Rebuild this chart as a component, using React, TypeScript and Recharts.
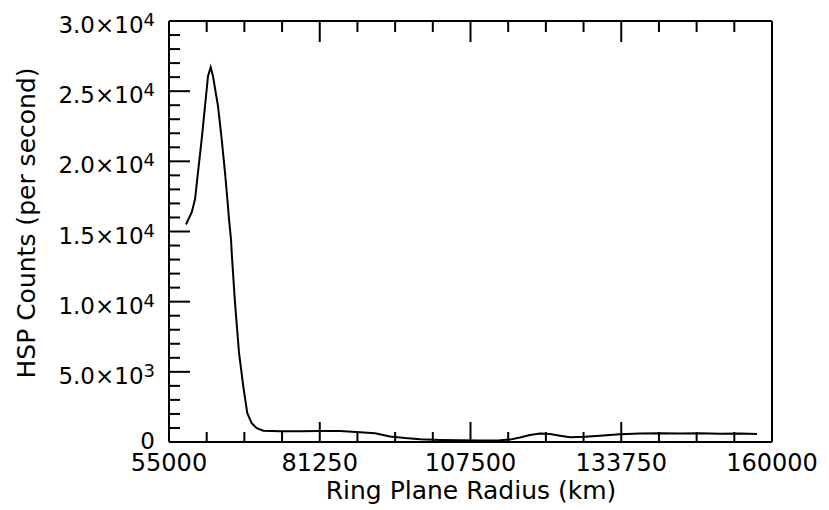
import { LineChart, Line, XAxis, YAxis } from 'recharts'

const RADIUS_KM = [
  57960, 58950, 59530, 60050, 60690, 61270, 61790, 62260, 62660, 63530,
  64180, 64750, 65270, 65450, 65800, 65920, 66490, 67190, 67940, 68630,
  69400, 70270, 71420, 74330, 77810, 81290, 84780, 88260, 90870, 93480,
  96100, 98710, 102190, 105670, 109150, 112640, 114380, 116120, 117860, 119600,
  121340, 123080, 124830, 127440, 130050, 133530, 137010, 140500, 143980, 147460,
  150940, 154420, 157390,
]
const HSP_COUNTS = [
  15500, 16360, 17290, 19210, 21570, 23930, 26070, 26710, 26070, 23930,
  21570, 19210, 16790, 15860, 14430, 13480, 9930, 6360, 3950, 2050,
  1340, 980, 810, 770, 760, 790, 780, 700, 620, 400,
  280, 200, 150, 120, 110, 120, 170, 320, 500, 600,
  570, 450, 340, 380, 450, 550, 600, 620, 600, 620,
  580, 600, 570,
]

const X_MAJOR = [55000, 81250, 107500, 133750, 160000]
const X_LABELS = ['55000', '81250', '107500', '133750', '160000']
const Y_MAJOR = [0, 5000, 10000, 15000, 20000, 25000, 30000]
const Y_MANTISSA = ['0', '5.0', '1.0', '1.5', '2.0', '2.5', '3.0']
const Y_EXPONENT = ['', '3', '4', '4', '4', '4', '4']

// four minor steps between each labelled x tick, one per 1000 counts on y
const X_TICKS = Array.from({ length: 17 }, (_, i) => 55000 + i * 6562.5)
const Y_TICKS = Array.from({ length: 31 }, (_, i) => i * 1000)

const data = RADIUS_KM.map((r, i) => ({ r, c: HSP_COUNTS[i] }))

const FONT = '"DejaVu Sans", sans-serif'

function BottomTick({ x, y, payload }: any) {
  const i = X_MAJOR.indexOf(payload.value)
  const major = i >= 0
  return (
    <g>
      <line x1={x} y1={y} x2={x} y2={y - (major ? 20 : 10)} stroke="#000" strokeWidth={2} />
      {major && (
        <text x={x} y={y + 29} textAnchor="middle" fontSize={24} fontFamily={FONT} fill="#000">
          {X_LABELS[i]}
        </text>
      )}
    </g>
  )
}

function TopTick({ x, y, payload }: any) {
  const major = X_MAJOR.includes(payload.value)
  return <line x1={x} y1={y} x2={x} y2={y + (major ? 21 : 11)} stroke="#000" strokeWidth={2} />
}

function LeftTick({ x, y, payload }: any) {
  const i = Y_MAJOR.indexOf(payload.value)
  const major = i >= 0
  const exp = major ? Y_EXPONENT[i] : ''
  return (
    <g>
      <line x1={x} y1={y} x2={x + (major ? 21 : 11)} y2={y} stroke="#000" strokeWidth={2} />
      {major && (
        <text x={x - 14} y={y + (exp ? 12 : 7)} textAnchor="end" fontSize={23} fontFamily={FONT} fill="#000">
          {Y_MANTISSA[i]}
          {exp ? '×10' : ''}
          {exp ? <tspan fontSize={18} dy={-7}>{exp}</tspan> : null}
        </text>
      )}
    </g>
  )
}

function RightTick({ x, y, payload }: any) {
  const major = Y_MAJOR.includes(payload.value)
  return <line x1={x} y1={y} x2={x - (major ? 21 : 11)} y2={y} stroke="#000" strokeWidth={2} />
}

export default function App() {
  const axisLine = { stroke: '#000', strokeWidth: 2 }
  return (
    <div style={{ position: 'absolute', left: 0, top: 0, width: 829, height: 510, background: '#fff' }}>
      <LineChart
        width={829}
        height={510}
        data={data}
        margin={{ top: 20, right: 56, bottom: 67, left: 168 }}
      >
        <XAxis
          xAxisId="b"
          dataKey="r"
          type="number"
          domain={[55000, 160000]}
          ticks={X_TICKS}
          interval={0}
          height={1}
          tickSize={0}
          tickMargin={0}
          tickLine={false}
          axisLine={axisLine}
          tick={BottomTick}
        />
        <XAxis
          xAxisId="t"
          orientation="top"
          dataKey="r"
          type="number"
          domain={[55000, 160000]}
          ticks={X_TICKS}
          interval={0}
          height={1}
          tickSize={0}
          tickMargin={0}
          tickLine={false}
          axisLine={axisLine}
          tick={TopTick}
        />
        <YAxis
          yAxisId="l"
          type="number"
          domain={[0, 30000]}
          ticks={Y_TICKS}
          interval={0}
          width={1}
          tickSize={0}
          tickMargin={0}
          tickLine={false}
          axisLine={axisLine}
          tick={LeftTick}
        />
        <YAxis
          yAxisId="r"
          orientation="right"
          type="number"
          domain={[0, 30000]}
          ticks={Y_TICKS}
          interval={0}
          width={1}
          tickSize={0}
          tickMargin={0}
          tickLine={false}
          axisLine={axisLine}
          tick={RightTick}
        />
        <Line
          xAxisId="b"
          yAxisId="l"
          type="linear"
          dataKey="c"
          stroke="#000"
          strokeWidth={2}
          dot={false}
          isAnimationActive={false}
        />
      </LineChart>
      <svg
        width={829}
        height={510}
        style={{ position: 'absolute', left: 0, top: 0, pointerEvents: 'none' }}
      >
        <text x={471} y={499} textAnchor="middle" fontSize={25} fontFamily={FONT} fill="#000">
          Ring Plane Radius (km)
        </text>
        <text
          transform="translate(35,223) rotate(-90)"
          textAnchor="middle"
          fontSize={25}
          fontFamily={FONT}
          fill="#000"
        >
          HSP Counts (per second)
        </text>
      </svg>
    </div>
  )
}
